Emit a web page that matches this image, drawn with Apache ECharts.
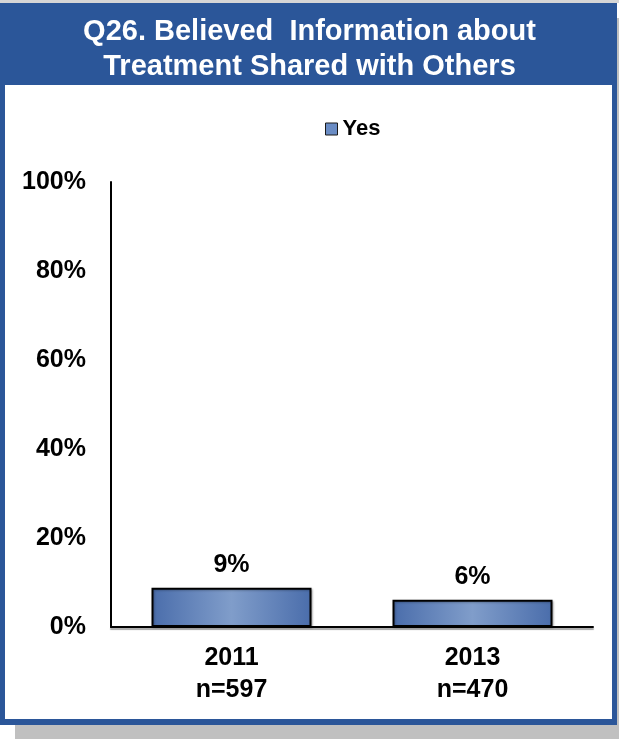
<!DOCTYPE html>
<html>
<head>
<meta charset="utf-8">
<script src="https://cdn.jsdelivr.net/npm/echarts@6/dist/echarts.min.js"></script>
<style>html,body{margin:0;padding:0;background:#fff}#c{width:619px;height:739px}</style>
</head>
<body>
<div id="c"></div>
<script>
var titleLines = ['Q26. Believed  Information about', 'Treatment Shared with Others'];
var categories = ['2011', '2013'];
var sampleSizes = ['n=597', 'n=470'];
var seriesName = 'Yes';
var yesValues = [8.8, 6.1];
var yTicks = [0, 20, 40, 60, 80, 100];

var FONT = '"Liberation Sans", Arial, Helvetica, sans-serif';
var chart = echarts.init(document.getElementById('c'), null, {renderer: 'canvas'});
var barGrad = new echarts.graphic.LinearGradient(0, 0, 1, 0, [
  {offset: 0, color: '#4a6dab'},
  {offset: 0.5, color: '#809dca'},
  {offset: 1, color: '#4a6dab'}
]);
var graphics = [
  {type: 'rect', z: -10, shape: {x: 0, y: 0, width: 619, height: 3}, style: {fill: '#d6d6d6'}},
  {type: 'rect', z: -10, shape: {x: 15, y: 18, width: 617, height: 722}, style: {fill: '#c0c0c0'}},
  {type: 'rect', z: -9, shape: {x: 0, y: 3, width: 617, height: 722}, style: {fill: '#2b5699'}},
  {type: 'rect', z: -8, shape: {x: 5, y: 85, width: 607, height: 634}, style: {fill: '#ffffff'}}
];
titleLines.forEach(function (t, i) {
  graphics.push({type: 'text', z: 10, left: 'center', top: 17 + i * 35, style: {
    text: t, fill: '#ffffff', font: 'bold 29px ' + FONT
  }});
});
chart.setOption({
  animation: false,
  graphic: graphics,
  legend: {
    left: 320, top: 113,
    itemWidth: 12, itemHeight: 12,
    icon: 'rect',
    textStyle: {fontFamily: FONT, fontWeight: 'bold', fontSize: 22, color: '#000'},
    data: [{name: seriesName, itemStyle: {color: '#6a8cc4', borderColor: '#1a1a1a', borderWidth: 1}}]
  },
  grid: {left: 111, right: 26, top: 182, bottom: 112, containLabel: false},
  xAxis: {
    type: 'category',
    data: categories,
    axisLine: {show: true, lineStyle: {color: '#000', width: 2, shadowColor: 'rgba(0,0,0,0.35)', shadowOffsetY: 2, shadowBlur: 1}},
    axisTick: {show: false},
    axisLabel: {
      margin: 15,
      fontFamily: FONT, fontWeight: 'bold', fontSize: 25, color: '#000', lineHeight: 32,
      formatter: function (v, i) { return v + '\n' + sampleSizes[i]; }
    }
  },
  yAxis: {
    type: 'value', min: yTicks[0], max: yTicks[yTicks.length - 1], interval: 20,
    axisLine: {show: true, lineStyle: {color: '#000', width: 2}},
    axisTick: {show: false},
    splitLine: {show: false},
    axisLabel: {margin: 25, fontFamily: FONT, fontWeight: 'bold', fontSize: 25, color: '#000', formatter: '{value}%'}
  },
  series: [{
    name: seriesName,
    type: 'bar',
    data: yesValues,
    barWidth: 160,
    itemStyle: {color: barGrad, borderColor: '#000', borderWidth: 2, shadowColor: 'rgba(0,0,0,0.25)', shadowOffsetX: 1, shadowOffsetY: 1, shadowBlur: 2},
    label: {
      show: true, position: 'top', distance: 10,
      fontFamily: FONT, fontWeight: 'bold', fontSize: 25, color: '#000', lineHeight: 25,
      formatter: function (p) { return Math.round(p.value) + '%'; }
    }
  }]
});
</script>
</body>
</html>
